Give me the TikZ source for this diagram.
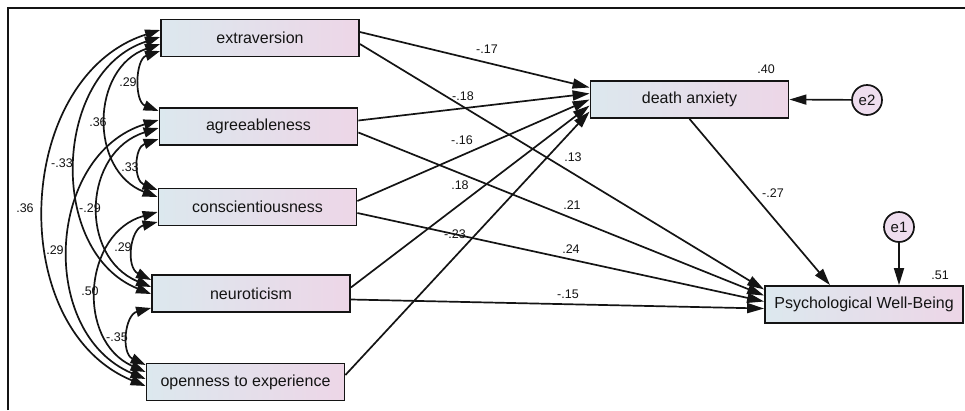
\documentclass[tikz,border=0pt]{standalone}
\usepackage{fontspec}
\setmainfont{Liberation Sans}
\usetikzlibrary{arrows.meta,calc}
\definecolor{boxL}{HTML}{DCE8EE}
\definecolor{boxR}{HTML}{EDD6E7}
\definecolor{errfill}{HTML}{EEDDEE}
\definecolor{ink}{HTML}{141414}
\begin{document}
\begin{tikzpicture}[x=1pt,y=-1pt,
  vbox/.style={draw=ink, line width=1.8pt, left color=boxL, right color=boxR,
    minimum width=198pt, minimum height=37pt, inner sep=0pt,
    font=\fontsize{16}{19}\selectfont, text=ink},
  errc/.style={circle, draw=ink, line width=1.7pt, fill=errfill, minimum size=30pt,
    inner sep=0pt, font=\fontsize{15}{18}\selectfont, text=ink},
  lbl/.style={font=\fontsize{12.5}{15}\selectfont, text=ink, inner sep=0pt},
  reg/.style={draw=ink, line width=1.7pt, -{Triangle[length=17pt,width=10pt]}},
  cov/.style={draw=ink, line width=1.7pt, {Triangle[length=15pt,width=10pt]}-{Triangle[length=15pt,width=10pt]}},
]
\useasboundingbox (0,0) rectangle (965,410);
\fill[white] (0,0) rectangle (965,410);
\draw[ink, line width=1.6pt] (8,410) -- (8,8) -- (965,8);

% observed variables
\node[vbox] (ex) at (260,38) {extraversion};
\node[vbox] (ag) at (258.5,126.5) {agreeableness};
\node[vbox] (co) at (257.5,207) {conscientiousness};
\node[vbox] (ne) at (251,293.5) {neuroticism};
\node[vbox] (op) at (245.5,382) {openness to experience};
\node[vbox] (da) at (689.5,99.5) {death anxiety};
\node[vbox] (pwb) at (864,304.5) {Psychological Well-Being};
\node[errc] (e2) at (867,100) {e2};
\node[errc] (e1) at (899,227) {e1};

% regressions to death anxiety
\draw[reg] ($(ex.east)+(0,-6)$) -- ($(da.west)+(0,-12)$);
\draw[reg] ($(ag.east)+(0,-6)$) -- ($(da.west)+(0,-6)$);
\draw[reg] ($(co.east)+(0,-6)$) -- ($(da.west)+(0,0)$);
\draw[reg] ($(ne.east)+(0,-6)$) -- ($(da.west)+(0,6)$);
\draw[reg] ($(op.east)+(0,-7)$) -- ($(da.west)+(0,12)$);
% regressions to PWB
\draw[reg] ($(ex.east)+(0,6)$) -- ($(pwb.west)+(0,-15)$);
\draw[reg] ($(ag.east)+(0,6)$) -- ($(pwb.west)+(0,-9)$);
\draw[reg] ($(co.east)+(0,6)$) -- ($(pwb.west)+(0,-3)$);
\draw[reg] ($(ne.east)+(0,6)$) -- ($(pwb.west)+(0,4)$);
\draw[reg] (da.south) -- ($(pwb.north)+(-34,0)$);
\draw[reg] (e1) -- (e1 |- pwb.north);
\draw[reg] (e2) -- (da.east);

% covariances
\draw[cov] ($(ex.west)+(0,13)$) to[bend right=70, looseness=1.12] ($(ag.west)+(0,-15.5)$);
\draw[cov] ($(ag.west)+(0,12.5)$) to[bend right=70, looseness=1.3] ($(co.west)+(0,-17)$);
\draw[cov] ($(co.west)+(0,15)$) to[bend right=70, looseness=1.25] ($(ne.west)+(0,-13.5)$);
\draw[cov] ($(ne.west)+(0,14.5)$) to[bend right=70, looseness=1.22] ($(op.west)+(0,-17)$);
\draw[cov] ($(ex.west)+(0,6)$) to[bend right=70, looseness=1.23] ($(co.west)+(0,-10)$);
\draw[cov] ($(ag.west)+(0,1.5)$) to[bend right=70, looseness=1.27] ($(ne.west)+(0,-6.5)$);
\draw[cov] ($(co.west)+(0,5)$) to[bend right=70, looseness=1.23] ($(op.west)+(0,-10)$);
\draw[cov] ($(ex.west)+(0,-1)$) to[bend right=70, looseness=1.12] ($(ne.west)+(0,0.5)$);
\draw[cov] ($(ag.west)+(0,-6.5)$) to[bend right=70, looseness=1.16] ($(op.west)+(0,-3)$);
\draw[cov] ($(ex.west)+(0,-8)$) to[bend right=70, looseness=1.1] ($(op.west)+(0,4)$);

% path coefficients
\node[lbl] (l1) at (487,49) {-.17};
\node[lbl] (l2) at (463,96) {-.18};
\node[lbl] (l3) at (462,140) {-.16};
\node[lbl] (l4) at (573,157) {.13};
\node[lbl] (l5) at (460,185) {.18};
\node[lbl] (l6) at (572,205) {.21};
\node[lbl] (l7) at (455,234) {-.23};
\node[lbl] (l8) at (571,249) {.24};
\node[lbl] (l9) at (568,294) {-.15};
\node[lbl] (l10) at (773,193) {-.27};
\node[lbl] (r1) at (766,69) {.40};
\node[lbl] (r2) at (940,275) {.51};
% correlations
\node[lbl] (c1) at (128,82) {.29};
\node[lbl] (c2) at (98,122) {.36};
\node[lbl] (c3) at (62,163) {-.33};
\node[lbl] (c4) at (25,208) {.36};
\node[lbl] (c5) at (130,167) {.33};
\node[lbl] (c6) at (90,208) {-.29};
\node[lbl] (c7) at (55,250) {.29};
\node[lbl] (c8) at (123,247) {.29};
\node[lbl] (c9) at (90,291) {.50};
\node[lbl] (c10) at (117,337) {-.35};
\end{tikzpicture}
\end{document}
